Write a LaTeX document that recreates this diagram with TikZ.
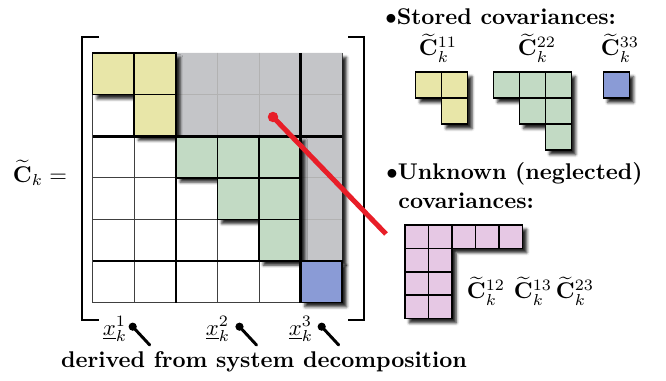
\documentclass[tikz,border=0pt]{standalone}
\usepackage{xcolor}
\usetikzlibrary{shadows.blur}
\definecolor{blkyellow}{RGB}{232,230,168}
\definecolor{blkgreen}{RGB}{194,218,196}
\definecolor{blkblue}{RGB}{138,155,214}
\definecolor{blkpink}{RGB}{230,200,228}
\definecolor{offgray}{RGB}{196,197,200}
\definecolor{probered}{RGB}{232,30,40}

\begin{document}
\begin{tikzpicture}[x=0.44pt, y=-0.44pt,
    shade/.style={blur shadow={shadow xshift=1.9pt, shadow yshift=-1.9pt,
        shadow blur radius=1.2pt, shadow opacity=85}},
    cell/.style={draw=black, line width=0.7pt},
    thinline/.style={draw=black!75, line width=0.35pt},
    blockline/.style={line width=1.2pt},
    bracket/.style={line width=1.2pt},
    pinline/.style={line width=1.3pt, line cap=round},
    pindot/.style={circle, fill=black, inner sep=0pt, minimum size=3.6pt},
    txt/.style={inner sep=0pt}]
    \useasboundingbox (0,0) rectangle (666,381);

    % full covariance matrix
    \node[txt] (lhs) at (40,173) {$\widetilde{\mathbf{C}}_k =$};
    \draw[bracket] (99,37) -- (82,37) -- (82,320) -- (99,320);
    \draw[bracket] (348,37) -- (364,37) -- (364,320) -- (348,320);
    \begin{scope}[shift={(92.7,53)}, x=18.3pt, y=-18.3pt]
        \foreach \i in {0,...,6}
            \draw[thinline] (\i,0) -- (\i,6) (0,\i) -- (6,\i);
        \fill[offgray, shade] (2,0) -- (6,0) -- (6,5) -- (5,5) -- (5,2) -- (2,2) -- cycle;
        \draw[draw=black!30, line width=0.35pt] (3,0) -- (3,2) (4,0) -- (4,2) (2,1) -- (6,1)
            (5,3) -- (6,3) (5,4) -- (6,4);
        \filldraw[blkyellow, cell, shade] (0,0) -- (2,0) -- (2,2) -- (1,2) -- (1,1) -- (0,1) -- cycle;
        \draw[cell] (1,0) -- (1,1) -- (2,1);
        \filldraw[blkgreen, cell, shade] (2,2) -- (5,2) -- (5,5) -- (4,5) -- (4,4) -- (3,4) -- (3,3) -- (2,3) -- cycle;
        \draw[cell] (3,2) -- (3,3) -- (5,3) (4,2) -- (4,4) -- (5,4);
        \filldraw[blkblue, cell, shade] (5,5) rectangle (6,6);
        \draw[blockline] (2,0) -- (2,6) (5,0) -- (5,6) (0,2) -- (6,2) (0,5) -- (5,5);
    \end{scope}

    % stored blocks
    \node[txt, anchor=west] (stored) at (385,17) {$\bullet$\textbf{Stored covariances:}};
    \node[txt] (c11) at (438,48) {$\widetilde{\mathbf{C}}_k^{11}$};
    \node[txt] (c22) at (537,48) {$\widetilde{\mathbf{C}}_k^{22}$};
    \node[txt] (c33) at (620,48) {$\widetilde{\mathbf{C}}_k^{33}$};
    \begin{scope}[shift={(415.7,72.3)}, x=11.44pt, y=-11.44pt]
        \filldraw[blkyellow, cell, shade] (0,0) -- (2,0) -- (2,2) -- (1,2) -- (1,1) -- (0,1) -- cycle;
        \draw[cell] (1,0) -- (1,1) -- (2,1);
    \end{scope}
    \begin{scope}[shift={(493.3,72.3)}, x=11.44pt, y=-11.44pt]
        \filldraw[blkgreen, cell, shade] (0,0) -- (3,0) -- (3,3) -- (2,3) -- (2,2) -- (1,2) -- (1,1) -- (0,1) -- cycle;
        \draw[cell] (1,0) -- (1,1) -- (3,1) (2,0) -- (2,2) -- (3,2);
    \end{scope}
    \begin{scope}[shift={(603.3,72.3)}, x=11.44pt, y=-11.44pt]
        \filldraw[blkblue, cell, shade] (0,0) rectangle (1,1);
    \end{scope}

    % neglected blocks
    \node[txt, anchor=west] (unknown) at (386,174) {$\bullet$\textbf{Unknown (neglected)}};
    \node[txt, anchor=west] (unknownb) at (398,201) {\textbf{covariances:}};
    \begin{scope}[shift={(405,225)}, x=10.34pt, y=-10.3pt]
        \filldraw[blkpink, cell, shade] (0,0) -- (5,0) -- (5,1) -- (2,1) -- (2,4) -- (0,4) -- cycle;
        \draw[cell] (1,0) -- (1,4) (2,0) -- (2,1) (3,0) -- (3,1) (4,0) -- (4,1)
            (0,1) -- (2,1) (0,2) -- (2,2) (0,3) -- (2,3);
    \end{scope}
    \node[txt] (c12) at (486,291) {$\widetilde{\mathbf{C}}_k^{12}$};
    \node[txt] (c13) at (533,291) {$\widetilde{\mathbf{C}}_k^{13}$};
    \node[txt] (c23) at (575,291) {$\widetilde{\mathbf{C}}_k^{23}$};

    % pointer from off-diagonal part
    \node[circle, fill=probered, inner sep=0pt, minimum size=4.6pt] (probe) at (273,117) {};
    \coordinate (probeend) at (386,234);
    \draw[probered, line width=2.2pt] (probe.center) -- (probeend);

    % subsystem states
    \foreach \i/\xl/\xd in {1/115/132.7, 2/218/239.5, 3/301/321.7} {
        \node[txt] (x\i) at (\xl,329) {$\underline{x}_k^{\i}$};
        \node[pindot] (pin\i) at (\xd,326.7) {};
        \coordinate (pinend\i) at (\xd+17,345);
        \draw[pinline] (pin\i.center) -- (pinend\i);
    }
    \node[txt] (derived) at (264,362) {\textbf{derived from system decomposition}};
\end{tikzpicture}
\end{document}
